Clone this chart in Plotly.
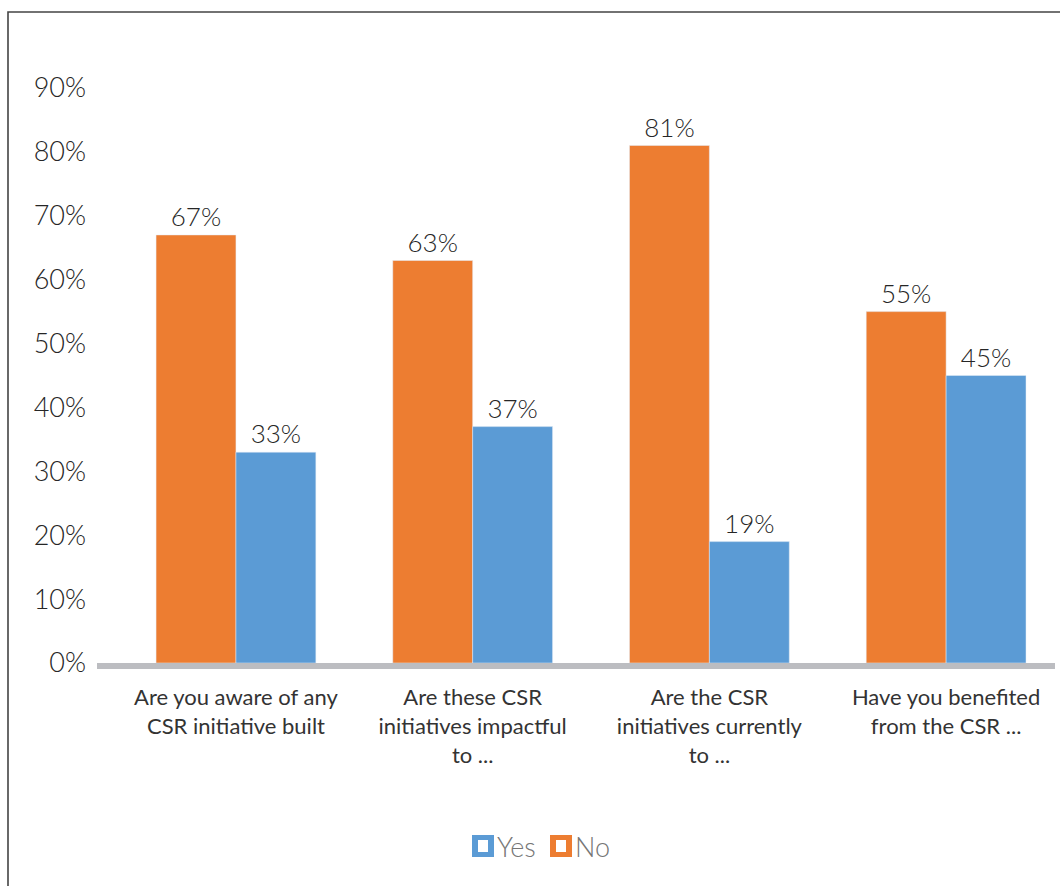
import plotly.graph_objects as go

# Survey questions and answer shares (percent)
questions = [
    "Are you aware of any<br>CSR initiative built",
    "Are these CSR<br>initiatives impactful<br>to ...",
    "Are the CSR<br>initiatives currently<br>to ...",
    "Have you benefited<br>from the CSR ...",
]
no_share = [67, 63, 81, 55]
yes_share = [33, 37, 19, 45]
y_ticks = [0, 10, 20, 30, 40, 50, 60, 70, 80, 90]
y_tick_labels = [f"{v}%" for v in y_ticks]

ORANGE = "#ED7D31"
BLUE = "#5B9BD5"
TEXT = "#262626"
FONT = "Lato"

W, H = 1060, 886
ML, MR, MT, MB = 97, 5, 88, 223


def px_x(p):
    return (p - ML) / (W - ML - MR)


def px_y(p):
    return ((H - MB) - p) / (H - MT - MB)


label_font = dict(size=26, color=TEXT, family=FONT, weight=300)

fig = go.Figure()
fig.add_trace(go.Bar(
    name="No", x=questions, y=no_share, marker_color=ORANGE,
    text=[f"{v}%" for v in no_share], textposition="outside",
    textfont=label_font, cliponaxis=False,
))
fig.add_trace(go.Bar(
    name="Yes", x=questions, y=yes_share, marker_color=BLUE,
    text=[f"{v}%" for v in yes_share], textposition="outside",
    textfont=label_font, cliponaxis=False,
))

# outer frame
shapes = [dict(type="rect", xref="paper", yref="paper",
               x0=px_x(8), x1=px_x(1070), y0=px_y(12), y1=px_y(900),
               line=dict(color="#444444", width=1.6), fillcolor="rgba(0,0,0,0)")]

# custom legend: coloured squares with a white centre
annotations = []
legend_items = [("Yes", BLUE, 472), ("No", ORANGE, 550)]
for name, color, lx in legend_items:
    shapes.append(dict(type="rect", xref="paper", yref="paper",
                       x0=px_x(lx), x1=px_x(lx + 22), y0=px_y(857), y1=px_y(835),
                       line=dict(width=0), fillcolor=color))
    shapes.append(dict(type="rect", xref="paper", yref="paper",
                       x0=px_x(lx + 6), x1=px_x(lx + 16), y0=px_y(852), y1=px_y(840),
                       line=dict(width=0), fillcolor="white"))
    annotations.append(dict(text=name, xref="paper", yref="paper",
                            x=px_x(lx + 23), y=px_y(846), xanchor="left", yanchor="middle",
                            showarrow=False,
                            font=dict(size=27, color="#767676", family=FONT, weight=300)))

fig.update_layout(
    width=W, height=H,
    margin=dict(l=ML, r=MR, t=MT, b=MB),
    paper_bgcolor="white", plot_bgcolor="white",
    barmode="group", bargap=0.325, bargroupgap=0,
    showlegend=False,
    shapes=shapes, annotations=annotations,
    font=dict(family=FONT, color=TEXT),
)
fig.update_xaxes(
    range=[-0.587, 3.46], showgrid=False,
    showline=True, linecolor="#BCBDC1", linewidth=6,
    ticks="", tickfont=dict(size=22, color="#333333", family=FONT, weight=400),
    ticklabelstandoff=10,
)
fig.update_yaxes(
    range=[0, 90], tickvals=y_ticks, ticktext=y_tick_labels,
    showgrid=False, zeroline=False, showline=False,
    tickfont=dict(size=27, color=TEXT, family=FONT, weight=300),
    ticklabelstandoff=10,
)

fig.write_html("out.html")
